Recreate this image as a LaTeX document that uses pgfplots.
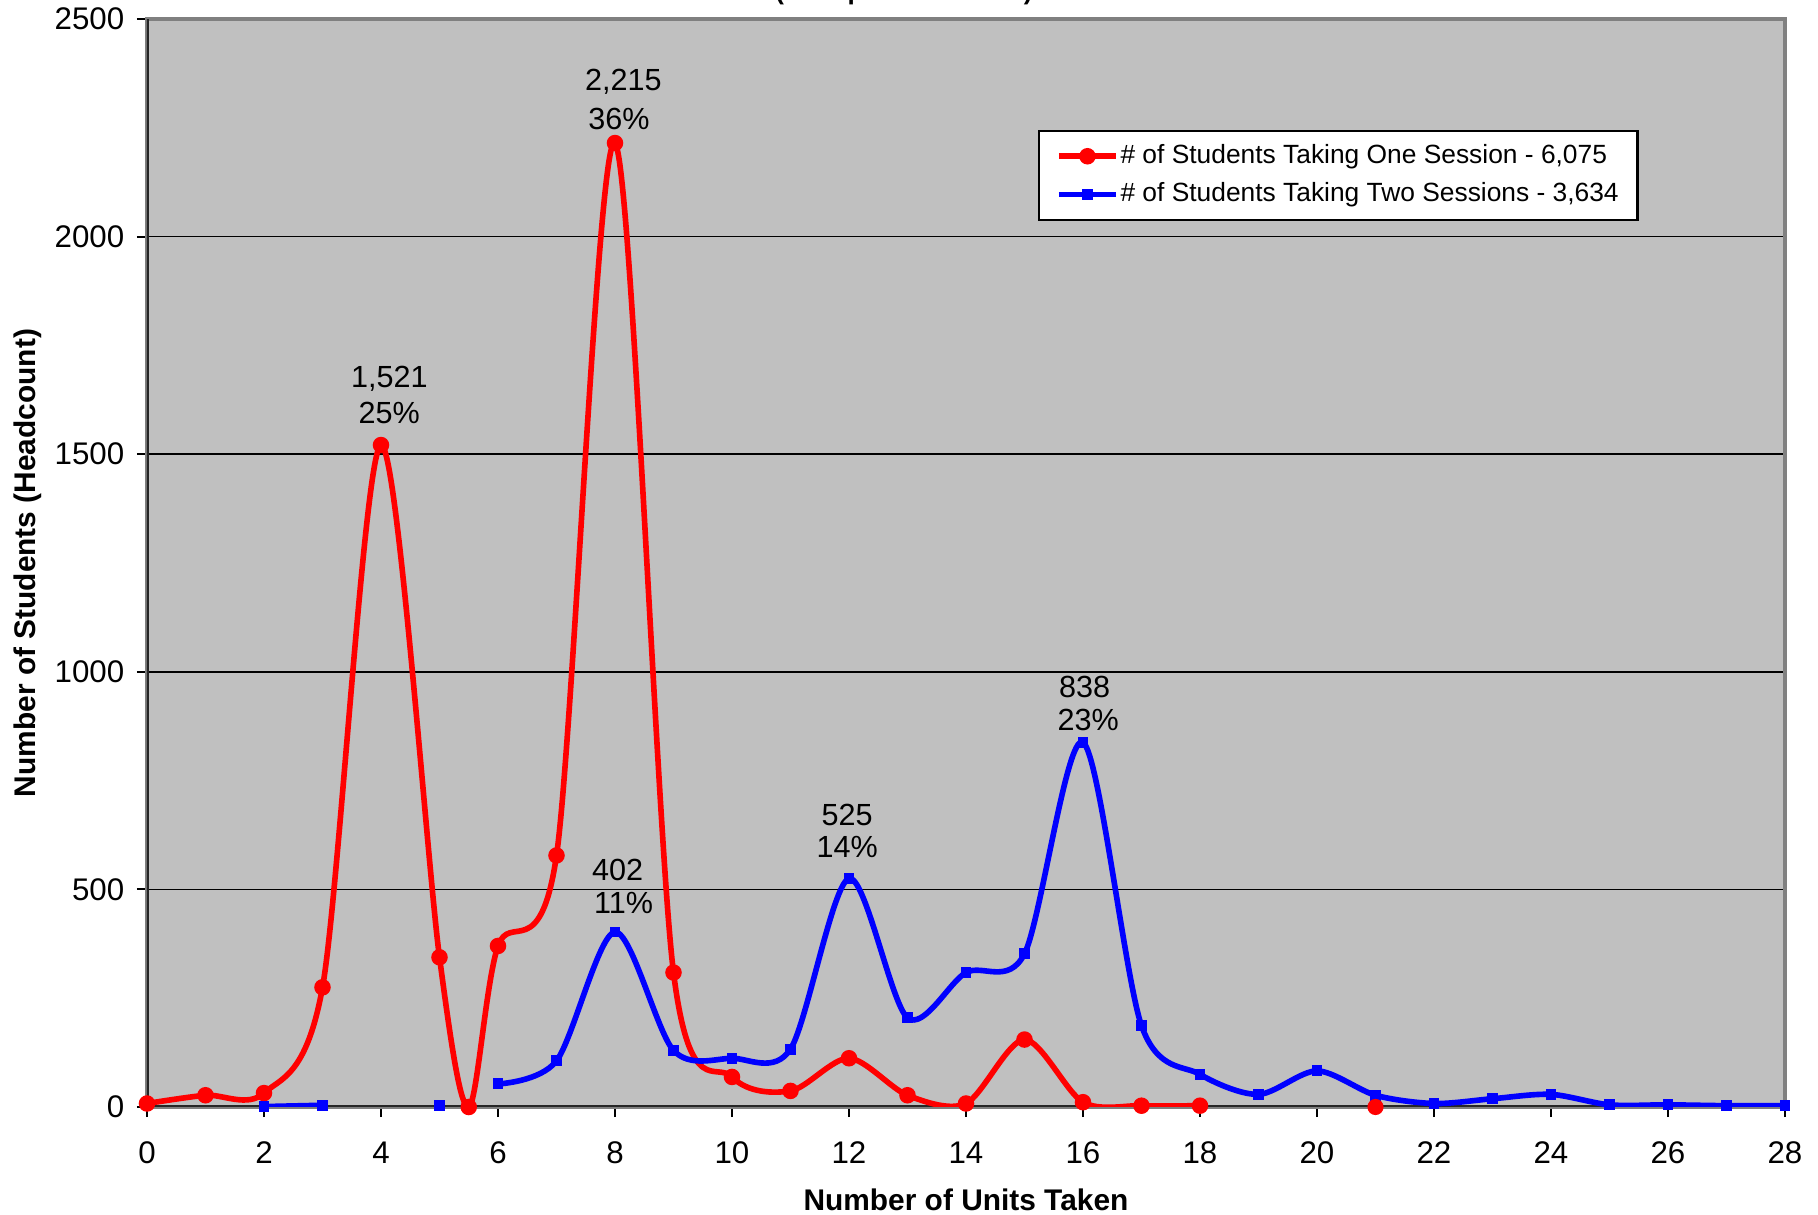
\documentclass[border=0pt]{standalone}
\usepackage{fontspec}
\setmainfont{Liberation Sans}
\usepackage{pgfplots}
\pgfplotsset{compat=1.18}
\definecolor{plotbg}{RGB}{192,192,192}
\definecolor{framegray}{RGB}{128,128,128}
\definecolor{xred}{RGB}{255,0,0}
\definecolor{xblue}{RGB}{0,0,255}
\begin{document}
\begin{tikzpicture}
\path[use as bounding box] (0,0) rectangle (18.18,12.15);
\node[anchor=base, font=\fontsize{7.4}{9}\selectfont\bfseries] at (9.04,12.15) {(unduplicated count)};
\begin{axis}[
  at={(1.47cm,1.08cm)}, anchor=south west,
  width=16.38cm, height=10.88cm, scale only axis,
  xmin=0, xmax=28, ymin=0, ymax=2500,
  xtick={0,2,...,28}, ytick={0,500,...,2500},
  tick pos=left, tick align=outside,
  major tick length=0.1cm,
  tick style={black, line width=0.6pt},
  ymajorgrids, grid style={black, line width=0.5pt},
  axis background/.style={fill=plotbg},
  axis line style={framegray, line width=1.2pt},
  /pgf/number format/assume math mode=true,
  /pgf/number format/1000 sep={},
  ticklabel style={font=\fontsize{8.9}{10}\selectfont},
  xticklabel style={anchor=center, yshift=-0.36cm, inner sep=0pt},
  yticklabel style={anchor=east, inner sep=0pt, xshift=-0.12cm},
  xlabel={Number of Units Taken},
  ylabel={Number of Students (Headcount)},
  label style={font=\fontsize{8.5}{10}\selectfont\bfseries},
  xlabel style={at={(axis description cs:0.5,-0.0855)}, anchor=center},
  ylabel style={at={(axis description cs:-0.0725,0.5)}, anchor=center},
  legend style={at={(rel axis cs:0.544,0.898)}, anchor=north west,
    draw=black, fill=white, line width=0.6pt,
    font=\fontsize{7.5}{9}\selectfont, inner xsep=0.17cm, inner ysep=0.06cm,
    row sep=0pt, nodes={inner xsep=0.5pt}},
  legend cell align=left,
  legend image code/.code={\draw[#1, mark repeat=2, mark phase=2] plot coordinates {(0cm,0cm) (0.285cm,0cm) (0.57cm,0cm)};},
]
\draw[black!85, line width=1.2pt] (rel axis cs:0,1) -- (rel axis cs:0,0) -- (rel axis cs:1,0);

\addplot[xred, line width=1.6pt, smooth, mark=*, mark size=2.1pt, mark options={solid, fill=xred, draw=xred, line width=0.5pt}] coordinates {
 (0,8) (1,27) (2,32) (3,275) (4,1521) (5,344) (5.5,0) (6,370) (7,578) (8,2215) (9,309) (10,69)
 (11,37) (12,112) (13,27) (14,8) (15,155) (16,11) (17,3) (18,3)
};
\addlegendentry{\# of Students Taking One Session - 6,075}
\addplot[xblue, line width=1.6pt, smooth, mark=square*, mark size=1.3pt, mark options={solid, fill=xblue, draw=xblue, line width=0.5pt}] coordinates {
 (6,53) (7,106) (8,402) (9,130) (10,112) (11,133) (12,525) (13,205) (14,309) (15,352) (16,838)
 (17,187) (18,75) (19,29) (20,83) (21,27) (22,8) (23,19) (24,29) (25,5) (26,5) (27,3) (28,3)
};
\addlegendentry{\# of Students Taking Two Sessions - 3,634}
\addplot[forget plot, only marks, mark=*, mark size=2.1pt, xred] coordinates {(21,0)};
\addplot[forget plot, xblue, line width=1.6pt, smooth, mark=square*, mark size=1.3pt, mark options={solid, fill=xblue, line width=0.5pt}] coordinates {(2,1) (3,4)};
\addplot[forget plot, only marks, mark=square*, mark size=1.3pt, xblue] coordinates {(5,3)};

\begin{scope}[every node/.style={font=\fontsize{8.7}{10}\selectfont, inner sep=0pt, anchor=center}]
\node at (axis cs:4.142,1674) {1,521};
\node at (axis cs:4.142,1594) {25\%};
\node at (axis cs:8.145,2356) {2,215};
\node at (axis cs:8.066,2271) {36\%};
\node at (axis cs:8.046,544) {402};
\node at (axis cs:8.145,469) {11\%};
\node at (axis cs:11.97,672) {525};
\node at (axis cs:11.97,597) {14\%};
\node at (axis cs:16.03,965) {838};
\node at (axis cs:16.09,890) {23\%};
\end{scope}
\end{axis}
\end{tikzpicture}
\end{document}
